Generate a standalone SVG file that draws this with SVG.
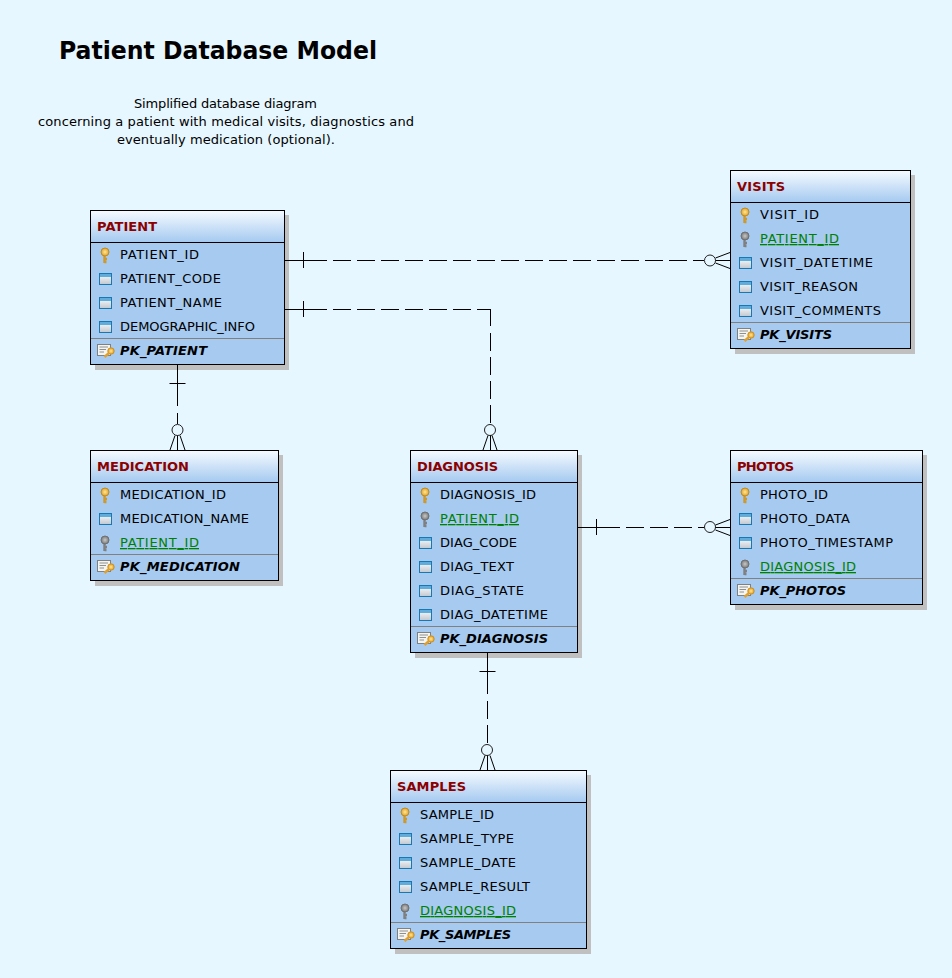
<svg xmlns="http://www.w3.org/2000/svg" width="952" height="978" viewBox="0 0 952 978">
<style>
text{font-family:"DejaVu Sans","Liberation Sans",sans-serif;fill:#000}
.f{font-size:13px}
.u{fill:#008000;text-decoration:underline}
.t{font-size:13px;font-weight:bold;fill:#8b0000}
.p{font-size:13px;font-weight:bold;font-style:italic}
.box{fill:#a6caf0;stroke:#000;stroke-width:1}
.sh{fill:#c0c0c0}
.hd{fill:url(#hg)}
.ln{stroke:#000;stroke-width:1;fill:none}
.sep{stroke:#808080;stroke-width:1}
.c{stroke:#000;stroke-width:1;fill:none}
.d{stroke:#000;stroke-width:1;fill:none;stroke-dasharray:18 6}
.k{stroke:#222;stroke-width:1;fill:#e6f7ff}
</style>
<defs>
<linearGradient id="hg" x1="0" y1="0" x2="0" y2="1"><stop offset="0" stop-color="#f4faff"/><stop offset="1" stop-color="#a6caf0"/></linearGradient>
<linearGradient id="ig" x1="0" y1="0" x2="0" y2="1"><stop offset="0" stop-color="#fff"/><stop offset="1" stop-color="#c0c8d0"/></linearGradient>
<radialGradient id="kg"><stop offset="0" stop-color="#ffe890"/><stop offset="1" stop-color="#e0a030"/></radialGradient>
<radialGradient id="gg"><stop offset="0" stop-color="#c8c8c8"/><stop offset="1" stop-color="#787878"/></radialGradient>
<g id="key"><path d="M4.500 8V16M4.500 12H7M4.500 15H6.500" stroke="#d09828" stroke-width="2.400" fill="none"/><circle cx="5" cy="5" r="4" fill="url(#kg)" stroke="#c08c20"/></g>
<g id="gkey"><path d="M4.500 8V16M4.500 12H7M4.500 15H6.500" stroke="#808080" stroke-width="2.400" fill="none"/><circle cx="5" cy="5" r="4" fill="url(#gg)" stroke="#707070"/></g>
<g id="col"><rect x=".5" y=".5" width="12" height="11" fill="url(#ig)" stroke="#1878b0"/><rect x="1" y="1" width="11" height="3" fill="#60acdc"/></g>
<g id="pk"><rect x=".5" y="-.5" width="13" height="11" fill="#f4f4f0" stroke="#808080"/><path d="M2.500 2H11M2.500 4.500H9M2.500 7H7" stroke="#909090"/><circle cx="14" cy="6" r="3.200" fill="url(#kg)" stroke="#d09020"/><path d="M12 8L7.500 12" stroke="#e0a030" stroke-width="2.400"/></g>
</defs>
<rect width="952" height="978" fill="#e6f7ff"/>
<text x="59" y="59" textLength="318" lengthAdjust="spacingAndGlyphs" style="font-size:24px;font-weight:bold">Patient Database Model</text>
<g text-anchor="middle"><text x="225.500" y="108" class="f" textLength="183">Simplified database diagram</text><text x="226" y="126" class="f" textLength="376">concerning a patient with medical visits, diagnostics and</text><text x="226" y="144" class="f" textLength="218">eventually medication (optional).</text></g>

<g id="patient">
<rect class="sh" x="95" y="215" width="194" height="155"/><rect class="box" x="90.500" y="210.500" width="194" height="154"/><rect class="hd" x="91" y="211" width="193" height="31"/><path class="ln" d="M91 242.500H284"/><path class="sep" d="M91 338.500H284"/>
<text class="t" x="97" y="231" textLength="60">PATIENT</text>
<use href="#key" x="100" y="247"/><text class="f" x="120" y="259" textLength="79">PATIENT_ID</text>
<use href="#col" x="99" y="273"/><text class="f" x="120" y="283" textLength="101">PATIENT_CODE</text>
<use href="#col" x="99" y="297"/><text class="f" x="120" y="307" textLength="102">PATIENT_NAME</text>
<use href="#col" x="99" y="321"/><text class="f" x="120" y="331" textLength="135">DEMOGRAPHIC_INFO</text>
<use href="#pk" x="97" y="345"/><text class="p" x="120" y="355" textLength="87">PK_PATIENT</text>
</g>

<g id="visits">
<rect class="sh" x="735" y="175" width="180" height="179"/><rect class="box" x="730.500" y="170.500" width="180" height="178"/><rect class="hd" x="731" y="171" width="179" height="31"/><path class="ln" d="M731 202.500H910"/><path class="sep" d="M731 322.500H910"/>
<text class="t" x="737" y="191" textLength="48">VISITS</text>
<use href="#key" x="740" y="207"/><text class="f" x="760" y="219" textLength="59">VISIT_ID</text>
<use href="#gkey" x="740" y="231"/><text class="f u" x="760" y="243" textLength="79">PATIENT_ID</text>
<use href="#col" x="739" y="257"/><text class="f" x="760" y="267" textLength="113">VISIT_DATETIME</text>
<use href="#col" x="739" y="281"/><text class="f" x="760" y="291" textLength="98">VISIT_REASON</text>
<use href="#col" x="739" y="305"/><text class="f" x="760" y="315" textLength="121">VISIT_COMMENTS</text>
<use href="#pk" x="737" y="329"/><text class="p" x="760" y="339" textLength="72">PK_VISITS</text>
</g>

<g id="medication">
<rect class="sh" x="95" y="455" width="188" height="131"/><rect class="box" x="90.500" y="450.500" width="188" height="130"/><rect class="hd" x="91" y="451" width="187" height="31"/><path class="ln" d="M91 482.500H278"/><path class="sep" d="M91 554.500H278"/>
<text class="t" x="97" y="471" textLength="92">MEDICATION</text>
<use href="#key" x="100" y="487"/><text class="f" x="120" y="499" textLength="106">MEDICATION_ID</text>
<use href="#col" x="99" y="513"/><text class="f" x="120" y="523" textLength="129">MEDICATION_NAME</text>
<use href="#gkey" x="100" y="535"/><text class="f u" x="120" y="547" textLength="79">PATIENT_ID</text>
<use href="#pk" x="97" y="561"/><text class="p" x="120" y="571" textLength="120">PK_MEDICATION</text>
</g>

<g id="diagnosis">
<rect class="sh" x="415" y="455" width="167" height="203"/><rect class="box" x="410.500" y="450.500" width="167" height="202"/><rect class="hd" x="411" y="451" width="166" height="31"/><path class="ln" d="M411 482.500H577"/><path class="sep" d="M411 626.500H577"/>
<text class="t" x="417" y="471" textLength="81">DIAGNOSIS</text>
<use href="#key" x="420" y="487"/><text class="f" x="440" y="499" textLength="96">DIAGNOSIS_ID</text>
<use href="#gkey" x="420" y="511"/><text class="f u" x="440" y="523" textLength="79">PATIENT_ID</text>
<use href="#col" x="419" y="537"/><text class="f" x="440" y="547" textLength="77">DIAG_CODE</text>
<use href="#col" x="419" y="561"/><text class="f" x="440" y="571" textLength="74">DIAG_TEXT</text>
<use href="#col" x="419" y="585"/><text class="f" x="440" y="595" textLength="84">DIAG_STATE</text>
<use href="#col" x="419" y="609"/><text class="f" x="440" y="619" textLength="108">DIAG_DATETIME</text>
<use href="#pk" x="417" y="633"/><text class="p" x="440" y="643" textLength="108">PK_DIAGNOSIS</text>
</g>

<g id="photos">
<rect class="sh" x="735" y="455" width="192" height="155"/><rect class="box" x="730.500" y="450.500" width="192" height="154"/><rect class="hd" x="731" y="451" width="191" height="31"/><path class="ln" d="M731 482.500H922"/><path class="sep" d="M731 578.500H922"/>
<text class="t" x="737" y="471" textLength="57">PHOTOS</text>
<use href="#key" x="740" y="487"/><text class="f" x="760" y="499" textLength="68">PHOTO_ID</text>
<use href="#col" x="739" y="513"/><text class="f" x="760" y="523" textLength="90">PHOTO_DATA</text>
<use href="#col" x="739" y="537"/><text class="f" x="760" y="547" textLength="133">PHOTO_TIMESTAMP</text>
<use href="#gkey" x="740" y="559"/><text class="f u" x="760" y="571" textLength="96">DIAGNOSIS_ID</text>
<use href="#pk" x="737" y="585"/><text class="p" x="760" y="595" textLength="86">PK_PHOTOS</text>
</g>

<g id="samples">
<rect class="sh" x="395" y="775" width="196" height="179"/><rect class="box" x="390.500" y="770.500" width="196" height="178"/><rect class="hd" x="391" y="771" width="195" height="31"/><path class="ln" d="M391 802.500H586"/><path class="sep" d="M391 922.500H586"/>
<text class="t" x="397" y="791" textLength="69">SAMPLES</text>
<use href="#key" x="400" y="807"/><text class="f" x="420" y="819" textLength="74">SAMPLE_ID</text>
<use href="#col" x="399" y="833"/><text class="f" x="420" y="843" textLength="94">SAMPLE_TYPE</text>
<use href="#col" x="399" y="857"/><text class="f" x="420" y="867" textLength="96">SAMPLE_DATE</text>
<use href="#col" x="399" y="881"/><text class="f" x="420" y="891" textLength="110">SAMPLE_RESULT</text>
<use href="#gkey" x="400" y="903"/><text class="f u" x="420" y="915" textLength="96">DIAGNOSIS_ID</text>
<use href="#pk" x="397" y="929"/><text class="p" x="420" y="939" textLength="91">PK_SAMPLES</text>
</g>

<g id="connectors">
<path class="c" d="M285 260.500H327M303.500 252V268"/><path class="d" d="M333 260.500H704"/><circle class="k" cx="710" cy="260.500" r="5.500"/><path class="c" d="M715.500 258L730 252.500M715.500 263L730 268.500M715.500 260.500H730"/>
<path class="c" d="M285 309.500H327M303.500 301V317"/><path class="d" d="M333 309.500H490"/><path class="c" d="M490.500 309V326"/><path class="d" d="M490.500 333V424"/><circle class="k" cx="490" cy="430" r="5.500"/><path class="c" d="M488 435.500L483 450M492 435.500L497 450M490.500 435.500V450"/>
<path class="c" d="M177.500 365V406M169.500 383.500H185.500M177.500 413V424"/><circle class="k" cx="177.500" cy="430" r="5.500"/><path class="c" d="M175 435.500L170 450M180 435.500L185 450M177.500 435.500V450"/>
<path class="c" d="M578 527.500H620M596.500 519V535"/><path class="d" d="M626 527.500H704"/><circle class="k" cx="710" cy="527" r="5.500"/><path class="c" d="M715.500 525L730 519.500M715.500 530L730 535.500M715.500 527.500H730"/>
<path class="c" d="M487.500 653V694M479.500 671.500H495.500"/><path class="d" d="M487.500 701V744"/><circle class="k" cx="487" cy="750" r="5.500"/><path class="c" d="M485 755.500L480 770M490 755.500L495 770M487.500 755.500V770"/>
</g>
</svg>
